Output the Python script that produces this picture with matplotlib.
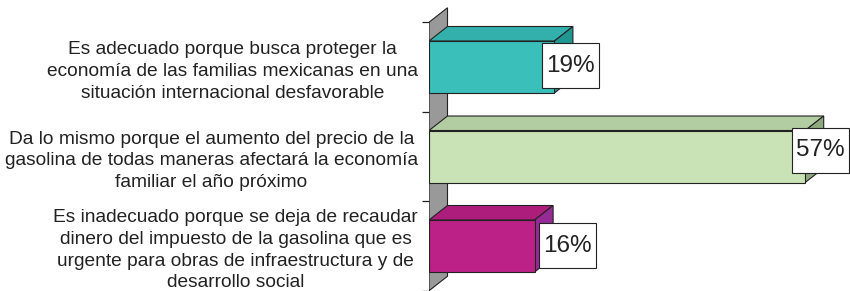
import numpy as np
import matplotlib
matplotlib.use('Agg')
import matplotlib.pyplot as plt
from matplotlib.patches import Polygon, Rectangle

plt.rcParams['font.family'] = ['Liberation Sans', 'DejaVu Sans']

categories = [
    'Es adecuado porque busca proteger la\neconomía de las familias mexicanas en una\nsituación internacional desfavorable',
    'Da lo mismo porque el aumento del precio de la\ngasolina de todas maneras afectará la economía\nfamiliar el año próximo',
    'Es inadecuado porque se deja de recaudar\ndinero del impuesto de la gasolina que es\nurgente para obras de infraestructura y de\ndesarrollo social',
]
values = [19, 57, 16]

front_colors = ['#3bbfba', '#c9e3b7', '#bb2186']
top_colors = ['#33b0ab', '#b2cda1', '#ad1d7c']
side_colors = ['#1f968f', '#8fa97f', '#962b95']

W, H, DPI = 850, 291, 100
fig = plt.figure(figsize=(W / DPI, H / DPI), dpi=DPI)
x0_px = 429
px_per_pct = 6.6
px_per_cat = 89.5
ax = fig.add_axes([x0_px / W, 0, (W - x0_px) / W, 1])
ax.set_xlim(0, (W - x0_px) / px_per_pct)
ax.set_ylim((H - 67) / px_per_cat, -67 / px_per_cat)

# pixel -> data helpers
dx = 18.5 / px_per_pct
dy = -14.5 / px_per_cat
bar_h = 52 / px_per_cat
n = len(values)

# back wall
wall = Polygon([(0, -0.5), (dx, -0.5 + dy), (dx, n - 0.5 + dy), (0, n - 0.5)],
               closed=True, facecolor='#999999', edgecolor='#222222', lw=0.8, zorder=1)
ax.add_patch(wall)

for i, v in enumerate(values):
    y_top = i - bar_h / 2
    y_bot = i + bar_h / 2
    top = Polygon([(0, y_top), (dx, y_top + dy), (v + dx, y_top + dy), (v, y_top)],
                  closed=True, facecolor=top_colors[i], edgecolor='#222222', lw=0.8, zorder=3)
    side = Polygon([(v, y_top), (v + dx, y_top + dy), (v + dx, y_bot + dy), (v, y_bot)],
                   closed=True, facecolor=side_colors[i], edgecolor='#222222', lw=0.8, zorder=3)
    front = Rectangle((0, y_top), v, bar_h, facecolor=front_colors[i],
                      edgecolor='#222222', lw=0.8, zorder=4)
    for p in (top, side, front):
        ax.add_patch(p)

# value labels with boxes
label_dx_px = [16, 15, 33]
label_dy_px = [-1.5, -6.5, -0.5]
box_w = 57 / px_per_pct
box_h = 45 / px_per_cat
for i, v in enumerate(values):
    cx = v + label_dx_px[i] / px_per_pct
    cy = i + label_dy_px[i] / px_per_cat
    ax.add_patch(Rectangle((cx - box_w / 2, cy - box_h / 2), box_w, box_h,
                           facecolor='white', edgecolor='#222222', lw=0.8,
                           zorder=5, clip_on=False))
    ax.text(cx, cy, f'{v}%', ha='center', va='center', fontsize=17.5,
            color='#222222', zorder=6, clip_on=False)

for s in ax.spines.values():
    s.set_visible(False)
ax.set_xticks([])
ax.set_yticks(range(n), labels=categories)
ax.set_yticks(np.arange(n + 1) - 0.5, minor=True)
ax.tick_params(axis='y', which='major', length=0, pad=8, labelsize=13.8, labelcolor='#222222')
ax.tick_params(axis='y', which='minor', length=5, width=0.9, color='#222222', direction='out')
for t in ax.get_yticklabels():
    t.set_multialignment('center')
    t.set_linespacing(1.36)

fig.savefig('out.png', dpi=DPI)
